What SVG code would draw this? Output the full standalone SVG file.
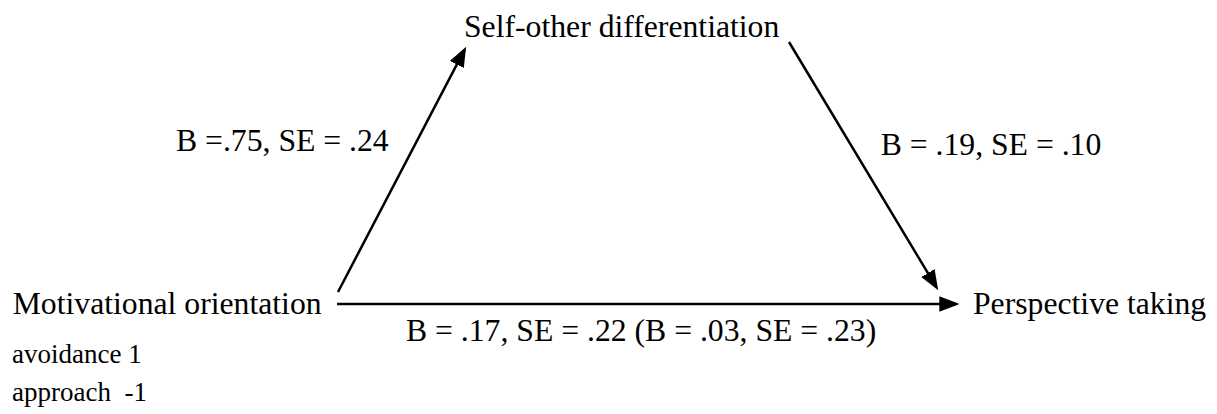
<svg xmlns="http://www.w3.org/2000/svg" width="1217" height="414" viewBox="0 0 1217 414">
<style>
.t{font-family:"Liberation Serif","Times New Roman",serif;font-size:31.7px;fill:#000}
.s{font-family:"Liberation Serif","Times New Roman",serif;font-size:27px;fill:#000;white-space:pre}
.c{stroke:#000;stroke-width:2.5;fill:none;marker-end:url(#ah)}
</style>
<defs>
<marker id="ah" markerUnits="userSpaceOnUse" markerWidth="20" markerHeight="16" refX="15" refY="7" orient="auto" viewBox="0 0 18 14">
<path d="M0,0 L18,7 L0,14 z" fill="#000"/>
</marker>
</defs>
<rect width="1217" height="414" fill="#fff"/>
<g id="connectors">
<line class="c" x1="338" y1="292" x2="464.6" y2="49.7"/>
<line class="c" x1="789" y1="42" x2="936.5" y2="287.4"/>
<line class="c" x1="337" y1="304" x2="956" y2="304"/>
</g>
<g id="node-self-other"><text class="t" x="464" y="37">Self-other differentiation</text></g>
<g id="node-motivational">
<text class="t" x="12.7" y="314">Motivational orientation</text>
<text class="s" x="12" y="363">avoidance 1</text>
<text class="s" x="12" y="401" xml:space="preserve">approach  -1</text>
</g>
<g id="node-perspective"><text class="t" x="973" y="314">Perspective taking</text></g>
<g id="labels">
<text class="t" x="176" y="151">B =.75, SE = .24</text>
<text class="t" x="880.7" y="155">B = .19, SE = .10</text>
<text class="t" x="406" y="341">B = .17, SE = .22 (B = .03, SE = .23)</text>
</g>
</svg>
